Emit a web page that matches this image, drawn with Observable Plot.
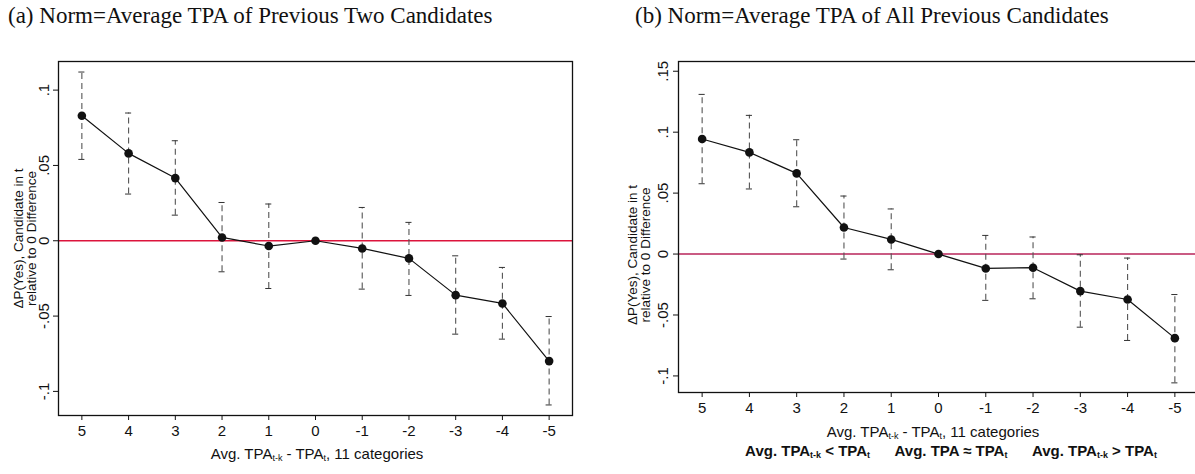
<!DOCTYPE html>
<html>
<head>
<meta charset="utf-8">
<script src="https://cdn.jsdelivr.net/npm/d3@7"></script>
<script src="https://cdn.jsdelivr.net/npm/@observablehq/plot@0.6"></script>
<style>
  html, body { margin: 0; padding: 0; background: #fff; }
  #wrap { position: relative; width: 1195px; height: 474px; overflow: hidden; background: #fff; }
  .title { position: absolute; font-family: "Liberation Serif", "Times New Roman", serif; font-size: 23px; color: #111; white-space: nowrap; }
  .xt { position: absolute; font-family: "Liberation Sans", Arial, sans-serif; font-size: 15px; color: #111; white-space: nowrap; transform: translateX(-50%); }
  .xt sub { font-size: 9px; vertical-align: -2px; }
  .panel { position: absolute; top: 0; }
</style>
</head>
<body>
<div id="wrap"></div>
<script>
// ---- data ----
const categories = [5, 4, 3, 2, 1, 0, -1, -2, -3, -4, -5];
const tickLabelsYA = [0.1, 0.05, 0, -0.05, -0.1];
const tickLabelsYB = [0.15, 0.1, 0.05, 0, -0.05, -0.1];

// Panel (a): Norm = Average TPA of Previous Two Candidates
const estA = [0.083, 0.058, 0.0416, 0.0022, -0.0035, 0, -0.0051, -0.0117, -0.0361, -0.0416, -0.0799];
const hiA  = [0.112, 0.0848, 0.0664, 0.0254, 0.0244, null, 0.0221, 0.0122, -0.010, -0.0177, -0.0503];
const loA  = [0.054, 0.031, 0.017, -0.0206, -0.0317, null, -0.0321, -0.0363, -0.062, -0.0653, -0.109];

// Panel (b): Norm = Average TPA of All Previous Candidates
const estB = [0.0944, 0.0834, 0.0662, 0.0218, 0.012, 0, -0.0118, -0.0112, -0.0304, -0.0373, -0.069];
const hiB  = [0.131, 0.1138, 0.0938, 0.0476, 0.037, null, 0.0153, 0.014, -0.0006, -0.0033, -0.0332];
const loB  = [0.0577, 0.0534, 0.0388, -0.0041, -0.0129, null, -0.038, -0.0367, -0.060, -0.0709, -0.1057];

const titleA = "(a) Norm=Average TPA of Previous Two Candidates";
const titleB = "(b) Norm=Average TPA of All Previous Candidates";
const yLabel = "ΔP(Yes), Candidate in t\nrelative to 0 Difference";

const fmt = d => d === 0 ? "0" : String(d).replace("0.", ".");

function rows(est, hi, lo) {
  return categories.map((c, i) => ({x: c, y: est[i], hi: hi[i], lo: lo[i]}));
}

function panelWithCaps(opts) {
  const {data} = opts;
  const ci = data.filter(d => d.hi != null);
  const capW = 0.065;
  const caps = [];
  ci.forEach(d => { caps.push({x1: d.x - capW, x2: d.x + capW, y: d.hi}); caps.push({x1: d.x - capW, x2: d.x + capW, y: d.lo}); });
  return Plot.plot({
    width: opts.width, height: opts.height,
    marginLeft: opts.mL, marginRight: opts.mR, marginTop: opts.mT, marginBottom: opts.mB,
    style: "font-family: 'Liberation Sans', Arial, sans-serif; font-size: 15px; color: #111; background: white; overflow: visible;",
    x: {domain: [5.5, -5.5]},
    y: {domain: opts.yDomain},
    marks: [
      Plot.ruleY([0], {stroke: opts.zeroColor, strokeWidth: 1.5}),
      Plot.ruleX(ci, {x: "x", y1: "lo", y2: "hi", stroke: "#555", strokeWidth: 1.1, strokeDasharray: "6,4"}),
      Plot.ruleY(caps, {x1: "x1", x2: "x2", y: "y", stroke: "#333", strokeWidth: 1}),
      Plot.line(data, {x: "x", y: "y", stroke: "#111", strokeWidth: 1.2}),
      Plot.dot(data, {x: "x", y: "y", r: 4.3, fill: "#111", stroke: "none"}),
      Plot.frame({stroke: "#111", strokeWidth: 1.3}),
      Plot.axisX({ticks: categories, tickFormat: d => String(d), tickSize: 5, tickPadding: 5, label: null, fontSize: 15}),
      Plot.axisY({ticks: opts.yTicks, tickFormat: fmt, tickSize: 5, tickPadding: opts.tickPad, tickRotate: -90, label: null, fontSize: 15}),
      Plot.text([yLabel], {frameAnchor: "left", rotate: -90, textAnchor: "middle", dx: opts.labelDx, dy: opts.labelDy || 0, text: d => d, fontSize: 13.5, lineHeight: 0.95})
    ]
  });
}

const wrap = document.getElementById("wrap");

const pA = panelWithCaps({data: rows(estA, hiA, loA), yDomain: [-0.116, 0.119], yTicks: tickLabelsYA,
  width: 600, height: 474, mL: 58, mR: 28, mT: 61, mB: 59, zeroColor: "#dc143c", labelDx: -33, tickPad: 5});
pA.classList.add("panel"); pA.style.left = "0px";
wrap.appendChild(pA);

const pB = panelWithCaps({data: rows(estB, hiB, loB), yDomain: [-0.1136, 0.158], yTicks: tickLabelsYB,
  width: 600, height: 474, mL: 78, mR: 2, mT: 61, mB: 82, zeroColor: "#b8245a", labelDx: -39, labelDy: 28, tickPad: 6});
pB.classList.add("panel"); pB.style.left = "600px";
wrap.appendChild(pB);

function addDiv(cls, html, left, top) {
  const d = document.createElement("div");
  d.className = cls; d.innerHTML = html; d.style.left = left + "px"; d.style.top = top + "px";
  wrap.appendChild(d);
  return d;
}
addDiv("title", titleA, 8, 3);
addDiv("title", titleB, 635, 3);
addDiv("xt", "Avg. TPA<sub>t-k</sub> - TPA<sub>t</sub>, 11 categories", 317, 445);
addDiv("xt", "Avg. TPA<sub>t-k</sub> - TPA<sub>t</sub>, 11 categories", 933, 423);
addDiv("xt", "<b>Avg. TPA<sub>t-k</sub> &lt; TPA<sub>t</sub>&nbsp;&nbsp;&nbsp;&nbsp;&nbsp; Avg. TPA ≈ TPA<sub>t</sub>&nbsp;&nbsp;&nbsp;&nbsp;&nbsp; Avg. TPA<sub>t-k</sub> &gt; TPA<sub>t</sub></b>", 951, 442);
</script>
</body>
</html>
